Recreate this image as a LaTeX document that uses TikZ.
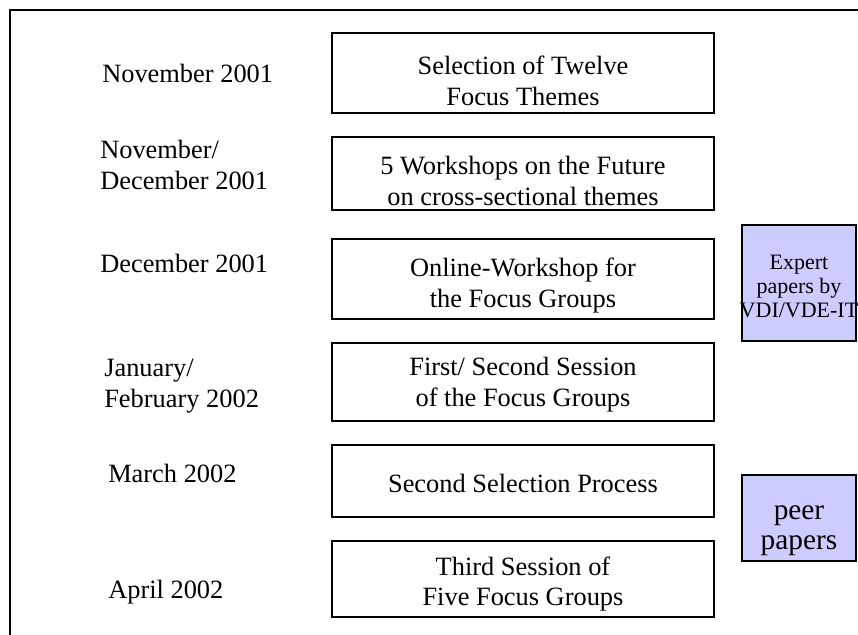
\documentclass[tikz,border=0pt]{standalone}
\usepackage{fontspec}
\setmainfont{Liberation Serif}
\usetikzlibrary{positioning}
\definecolor{paperblue}{RGB}{204,204,255}

\begin{document}
\begin{tikzpicture}
                [x=0.75pt, y=-0.75pt,
                 stage/.style={draw, line width=1.1pt, minimum width=286.5pt, inner sep=0pt,
                               align=center, font=\fontsize{19.8}{23}\selectfont},
                 date/.style={anchor=west, align=left, inner sep=0pt,
                              font=\fontsize{19.8}{23.5}\selectfont},
                 paper/.style={draw, line width=0.9pt, fill=paperblue, inner sep=0pt,
                               minimum width=85.5pt, align=center},
                 drop/.style={text height=#1}]
                \useasboundingbox (0,0) rectangle (858,635);
                \draw[line width=1.4pt] (10,635) -- (10,10) -- (858,10);
                % stages
                \node (s1) [stage, minimum height=60pt, drop=49pt] at (523,73) {Selection of Twelve\\Focus Themes};
                \node (s2) [stage, minimum height=54.75pt, drop=47.5pt] at (523,173.5) {5 Workshops on the Future\\on cross-sectional themes};
                \node (s3) [stage, minimum height=60pt, drop=46.3pt] at (523,279) {Online-Workshop for\\the Focus Groups};
                \node (s4) [stage, minimum height=58.5pt, drop=40.5pt] at (523,382) {First/ Second Session\\of the Focus Groups};
                \node (s5) [stage, minimum height=54pt, drop=18pt] at (523,481) {Second Selection Process};
                \node (s6) [stage, minimum height=57pt, drop=44.7pt] at (523,579) {Third Session of\\Five Focus Groups};
                % dates
                \node (d1) [date] at (102,73) {November 2001};
                \node (d2) [date] at (100,165) {November/\\December 2001};
                \node (d3) [date] at (100,263) {December 2001};
                \node (d4) [date] at (104,386) {January/\\February 2002};
                \node (d5) [date] at (108,473) {March 2002};
                \node (d6) [date] at (108,592) {April 2002};
                % papers
                \node (e) [paper, minimum height=87pt, drop=51.4pt, font=\fontsize{16.5}{18}\selectfont] at (799,283) {Expert\\papers by\\\makebox[80pt]{VDI/VDE-IT}};
                \node (p) [paper, minimum height=64.5pt, drop=52pt, font=\fontsize{22}{22.5}\selectfont] at (799,518) {peer\\papers};
            \end{tikzpicture}
\end{document}
